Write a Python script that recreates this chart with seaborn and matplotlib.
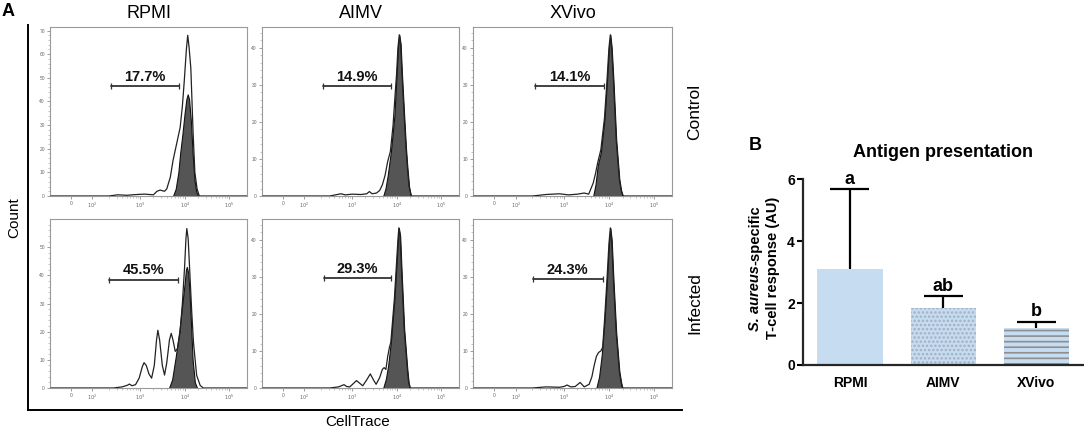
import numpy as np
import matplotlib.pyplot as plt
import seaborn as sns

sns.set_style("white")
plt.rcParams['font.family'] = ['Liberation Sans', 'DejaVu Sans']
plt.rcParams['hatch.linewidth'] = 1.2
for k in ["text.color", "axes.labelcolor", "xtick.color", "ytick.color"]:
    plt.rcParams[k] = "black"

media = ["RPMI", "AIMV", "XVivo"]
conditions = ["Control", "Infected"]

# --- panel A: CellTrace histograms (x in log10 display units, y = count) ---
rc_fill_x = [3.74, 3.80, 3.86, 3.90, 3.95, 4.00, 4.04, 4.07, 4.10, 4.14, 4.18, 4.22, 4.26, 4.30]
rc_fill_y = [0, 3, 10, 18, 26, 35, 41, 43, 41, 32, 18, 7, 2, 0]
rc_open_x = [1.0, 2.3, 2.5, 2.7, 2.9, 3.1, 3.3, 3.38, 3.45, 3.55, 3.60, 3.68, 3.74, 3.82, 3.90,
             3.95, 3.99, 4.04, 4.07, 4.10, 4.14, 4.19, 4.23, 4.28, 4.33, 5.4]
rc_open_y = [0, 0, 0.5, 0.3, 0.6, 0.8, 0.5, 2, 2.5, 2, 3, 8, 15, 22, 29,
             38, 48, 62, 68, 63, 54, 27, 10, 3, 0, 0]

ac_fill_x = [3.70, 3.75, 3.80, 3.87, 3.95, 4.00, 4.03, 4.06, 4.09, 4.12, 4.17, 4.21, 4.24, 4.28, 4.32]
ac_fill_y = [0, 2, 5.5, 11.8, 21.6, 33, 40, 43.5, 41, 33, 21.6, 13, 8, 2.5, 0]
ac_open_x = [1.0, 2.5, 2.75, 2.85, 3.0, 3.2, 3.33, 3.39, 3.45, 3.55, 3.62, 3.68, 3.74, 3.80,
             3.86, 3.92, 3.97, 4.00, 4.03, 4.06, 4.09, 4.12, 4.17, 4.21, 4.24, 4.28, 4.33, 5.4]
ac_open_y = [0, 0, 0.6, 0.3, 0.5, 0.4, 0.6, 1.2, 0.6, 0.8, 1.5, 3, 5.5, 9.3,
             12, 19, 28, 33, 40, 43.5, 41, 33, 21.6, 13, 8, 2.5, 0, 0]

xc_fill_x = [3.65, 3.70, 3.75, 3.82, 3.90, 3.95, 4.00, 4.03, 4.06, 4.10, 4.16, 4.23, 4.27, 4.31]
xc_fill_y = [0, 3, 8.2, 11.8, 20.7, 30, 40, 43.5, 40, 31, 15.3, 4.5, 1.5, 0]
xc_open_x = [1.0, 2.3, 2.6, 2.9, 3.1, 3.3, 3.45, 3.55, 3.60, 3.65, 3.70, 3.75, 3.82, 3.90,
             3.95, 4.00, 4.03, 4.06, 4.10, 4.16, 4.23, 4.27, 4.31, 5.4]
xc_open_y = [0, 0, 0.4, 0.6, 0.3, 0.5, 0.8, 0.5, 2, 3.5, 6, 9, 12.5, 21,
             30, 40, 43.5, 40, 31, 15.3, 4.5, 1.5, 0, 0]

ri_fill_x = [3.65, 3.72, 3.80, 3.88, 3.95, 4.00, 4.03, 4.05, 4.08, 4.11, 4.14, 4.18, 4.23, 4.28]
ri_fill_y = [0, 3, 11, 20, 30, 37, 42, 43, 41, 34, 24, 10, 2, 0]
ri_open_x = [1.0, 2.40, 2.60, 2.72, 2.76, 2.82, 2.90, 2.98, 3.05, 3.09, 3.14, 3.20, 3.26, 3.32,
             3.37, 3.40, 3.44, 3.50, 3.55, 3.60, 3.66, 3.70, 3.74, 3.79, 3.84, 3.90, 3.95,
             4.00, 4.03, 4.05, 4.08, 4.12, 4.16, 4.20, 4.27, 4.35, 4.42, 5.4]
ri_open_y = [0, 0, 0.4, 1.0, 1.4, 0.8, 1.2, 3.5, 7.5, 9, 8, 5, 3.5, 8,
             17, 20.5, 17, 8, 4.6, 9, 17, 19.4, 17, 13, 14, 20, 30,
             43, 53, 56.6, 53, 40, 27, 16, 4.5, 0.9, 0, 0]

ai_fill_x = [3.70, 3.76, 3.81, 3.87, 3.95, 4.00, 4.03, 4.05, 4.08, 4.11, 4.17, 4.24, 4.27, 4.30]
ai_fill_y = [0, 2.5, 6, 12.3, 24, 34, 40, 43.2, 41, 32, 15.9, 5.1, 1.5, 0]
ai_open_x = [1.0, 2.5, 2.7, 2.82, 2.88, 2.95, 3.03, 3.10, 3.17, 3.24, 3.33, 3.41, 3.48, 3.54,
             3.62, 3.68, 3.72, 3.76, 3.80, 3.84, 3.87, 3.95, 4.00, 4.03, 4.05, 4.08, 4.11,
             4.17, 4.24, 4.27, 4.30, 5.4]
ai_open_y = [0, 0, 0.3, 0.9, 0.4, 0.3, 1.2, 2, 1.3, 0.6, 2.2, 3.8, 2.2, 1,
             2.8, 5, 5.5, 5, 8.5, 11, 12.3, 24, 34, 40, 43.2, 41, 32,
             15.9, 5.1, 1.5, 0, 0]

xi_fill_x = [3.72, 3.78, 3.84, 3.90, 3.95, 4.00, 4.03, 4.06, 4.10, 4.16, 4.23, 4.27, 4.30]
xi_fill_y = [0, 3, 9, 18, 28, 39, 43.2, 40, 29, 15, 4.5, 1.5, 0]
xi_open_x = [1.0, 2.3, 2.6, 2.9, 3.0, 3.07, 3.15, 3.25, 3.36, 3.45, 3.56, 3.62, 3.67, 3.72,
             3.77, 3.82, 3.86, 3.90, 3.95, 4.00, 4.03, 4.06, 4.10, 4.16, 4.23, 4.27, 4.30, 5.4]
xi_open_y = [0, 0, 0.3, 0.2, 0.4, 0.8, 0.3, 0.4, 1.5, 0.3, 1, 3, 6, 8.5,
             9.6, 10, 11, 18, 28, 39, 43.2, 40, 29, 15, 4.5, 1.5, 0, 0]

# division gate: start, end, height and percentage
ctrl_gate_start = [2.35, 2.34, 2.35]
ctrl_gate_end = [3.88, 3.87, 3.90]
ctrl_gate_y = [46.4, 29.6, 29.6]
ctrl_gate_pct = ["17.7%", "14.9%", "14.1%"]
inf_gate_start = [2.31, 2.36, 2.31]
inf_gate_end = [3.86, 3.87, 3.86]
inf_gate_y = [38.5, 29.6, 29.3]
inf_gate_pct = ["45.5%", "29.3%", "24.3%"]

ctrl_ymax = [71.5, 45.6, 45.6]
inf_ymax = [60, 45.6, 45.6]
ctrl_ytop = [70, 40, 40]
inf_ytop = [50, 40, 40]

# --- panel B: antigen presentation ---
response_mean = [3.09, 1.85, 1.20]
response_err_top = [5.68, 2.23, 1.40]
sig_letters = ["a", "ab", "b"]

W, H = 1084, 429
fig = plt.figure(figsize=(W / 100, H / 100), dpi=100)


def px_axes(x0, y0, x1, y1):
    return fig.add_axes([x0 / W, 1 - y1 / H, (x1 - x0) / W, (y1 - y0) / H])


# outer L frame of panel A
frame = px_axes(28, 25, 682, 410)
frame.set_xticks([])
frame.set_yticks([])
for s in ["top", "right"]:
    frame.spines[s].set_visible(False)
for s in ["left", "bottom"]:
    frame.spines[s].set_linewidth(1.4)
    frame.spines[s].set_color("black")
frame.patch.set_alpha(0)

col_x = [(50, 247), (262, 459), (473, 672)]
row_y = [(27, 196), (219, 388)]

fills = [[(rc_fill_x, rc_fill_y), (ac_fill_x, ac_fill_y), (xc_fill_x, xc_fill_y)],
         [(ri_fill_x, ri_fill_y), (ai_fill_x, ai_fill_y), (xi_fill_x, xi_fill_y)]]
opens = [[(rc_open_x, rc_open_y), (ac_open_x, ac_open_y), (xc_open_x, xc_open_y)],
         [(ri_open_x, ri_open_y), (ai_open_x, ai_open_y), (xi_open_x, xi_open_y)]]
gates = [(ctrl_gate_start, ctrl_gate_end, ctrl_gate_y, ctrl_gate_pct),
         (inf_gate_start, inf_gate_end, inf_gate_y, inf_gate_pct)]
ymaxes = [ctrl_ymax, inf_ymax]
ytops = [ctrl_ytop, inf_ytop]

minor_x = [np.log10(m) + k for k in (2, 3, 4) for m in range(2, 10)]

for r in range(2):
    for c in range(3):
        ax = px_axes(col_x[c][0], row_y[r][0], col_x[c][1], row_y[r][1])
        fx, fy = fills[r][c]
        ox, oy = opens[r][c]
        ax.fill_between(fx, fy, color="#555555", edgecolor="#111111", linewidth=0.8, zorder=2)
        sns.lineplot(x=ox, y=oy, ax=ax, color="#222222", linewidth=0.9, zorder=3)
        gs, ge, gy, gp = gates[r]
        ax.plot([gs[c], ge[c]], [gy[c], gy[c]], color="#333333", lw=1.3, zorder=4)
        ax.plot([gs[c], ge[c]], [gy[c], gy[c]], ls="none", marker="|", ms=4,
                mew=0.9, color="#333333", zorder=4)
        ax.annotate(gp[c], xy=((gs[c] + ge[c]) / 2, gy[c]), xytext=(0, 1.5),
                    textcoords="offset points", ha="center", va="bottom",
                    fontsize=10.5, fontweight="bold", color="#111111")
        ax.set_xlim(0.98, 5.40)
        ax.set_ylim(0, ymaxes[r][c])
        ax.set_xticks([1.45, 1.93, 3, 4, 5])
        ax.set_xticklabels(["0", "$10^2$", "$10^3$", "$10^4$", "$10^5$"])
        ax.set_xticks(minor_x, minor=True)
        ax.set_yticks(np.arange(0, ytops[r][c] + 1, 10))
        ax.set_yticks(np.arange(0, ymaxes[r][c], 2), minor=True)
        ax.tick_params(which="major", length=2.2, width=0.5, color="#777777",
                       labelsize=3.5, labelcolor="#666666", pad=1.5)
        ax.tick_params(which="minor", length=1.2, width=0.4, color="#999999")
        ax.tick_params(left=True, bottom=True, which="both")
        ax.set_xlabel("")
        ax.set_ylabel("")
        for s in ax.spines.values():
            s.set_color("#9a9a9a")
            s.set_linewidth(0.8)
        ax.patch.set_facecolor("white")

for c, name in enumerate(media):
    fig.text((col_x[c][0] + col_x[c][1]) / 2 / W, 1 - 14 / H, name,
             ha="center", va="center", fontsize=13)
for r, name in enumerate(conditions):
    fig.text(695 / W, 1 - (row_y[r][0] + row_y[r][1]) / 2 / H, name, rotation=90,
             ha="center", va="center", fontsize=12.5)
fig.text(14 / W, 1 - 218 / H, "Count", rotation=90, ha="center", va="center", fontsize=11)
fig.text(358 / W, 1 - 422 / H, "CellTrace", ha="center", va="center", fontsize=11)
fig.text(8 / W, 1 - 12 / H, "A", ha="center", va="center", fontsize=13, fontweight="bold")
fig.text(755 / W, 1 - 145 / H, "B", ha="center", va="center", fontsize=13, fontweight="bold")

# --- bar chart ---
axb = px_axes(803.3, 179.3, 1083, 365)
sns.barplot(x=media, y=response_mean, color="#c6dcf1", saturation=1, width=0.7,
            errorbar=None, ax=axb, zorder=2)
hatches = [None, "....", "---"]
hatch_cols = ["#c6dcf1", "#a3b1c1", "#8e8e8e"]
for bar, h, hc in zip(axb.patches, hatches, hatch_cols):
    if h:
        bar.set_hatch(h)
        bar.set_edgecolor(hc)
    bar.set_linewidth(0)
xs = np.arange(len(media))
axb.vlines(xs, response_mean, response_err_top, color="black", lw=1.6, zorder=1)
axb.hlines(response_err_top, xs - 0.21, xs + 0.21, color="black", lw=1.6, zorder=3)
for x, top, lab in zip(xs, response_err_top, sig_letters):
    axb.annotate(lab, xy=(x, top), xytext=(0, 1), textcoords="offset points",
                 ha="center", va="bottom", fontsize=13, fontweight="bold")
axb.set_ylim(0, 6)
axb.set_xlim(-0.5, 2.5)
axb.set_yticks([0, 2, 4, 6])
axb.tick_params(axis="y", length=4, width=1.5, labelsize=10, pad=2, left=True)
axb.tick_params(axis="x", length=0, labelsize=10, pad=8)
for lab in axb.get_xticklabels() + axb.get_yticklabels():
    lab.set_fontweight("bold")
sns.despine(ax=axb)
axb.spines["left"].set_linewidth(1.6)
axb.spines["bottom"].set_linewidth(1.6)
axb.set_ylabel("")
axb.set_title("Antigen presentation", fontsize=13, fontweight="bold", pad=16)

# two-line y label, "S. aureus" in bold italic
fig.canvas.draw()
rend = fig.canvas.get_renderer()
yc = 1 - 268 / H
t1 = fig.text(755 / W, 0, "S. aureus", rotation=90, fontsize=10.5, fontweight="bold",
              fontstyle="italic", ha="center", va="bottom")
t2 = fig.text(755 / W, 0, "-specific", rotation=90, fontsize=10.5, fontweight="bold",
              ha="center", va="bottom")
h1 = t1.get_window_extent(rend).height / fig.bbox.height
h2 = t2.get_window_extent(rend).height / fig.bbox.height
y0 = yc - (h1 + h2) / 2
t1.set_y(y0)
t2.set_y(y0 + h1)
fig.text(773 / W, yc, "T-cell response (AU)", rotation=90, fontsize=10.5,
         fontweight="bold", ha="center", va="center")

fig.savefig("out.png", dpi=100)
